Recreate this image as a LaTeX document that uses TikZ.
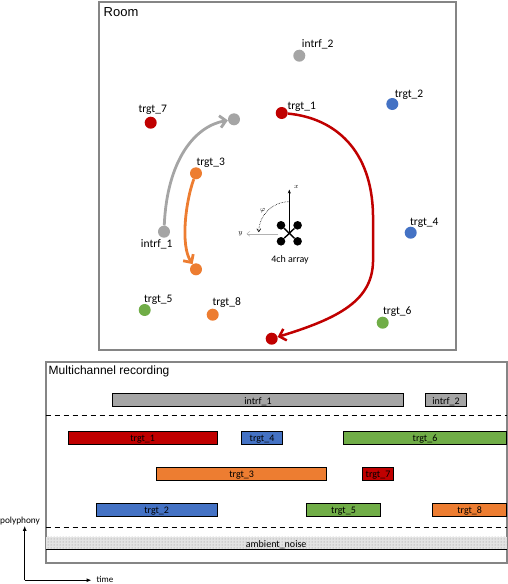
\documentclass[tikz,border=0pt]{standalone}
\usepackage{fontspec}
\setmainfont{Carlito}
\newfontfamily\headfont{Liberation Sans}
\usetikzlibrary{arrows.meta,patterns,calc}
\definecolor{srcred}{HTML}{C00000}
\definecolor{srcblue}{HTML}{4472C4}
\definecolor{srcorange}{HTML}{ED7D31}
\definecolor{srcgreen}{HTML}{70AD47}
\definecolor{srcgray}{HTML}{A5A5A5}
\definecolor{framegray}{HTML}{858585}
\tikzset{
	src/.style={circle, fill=#1, minimum size=12pt, inner sep=0pt},
	srclbl/.style={font=\fontsize{11.5}{12}\selectfont, inner sep=0pt},
	barlbl/.style={font=\fontsize{10}{11}\selectfont, inner sep=0pt, yshift=-1.5pt},
	mic/.style={circle, fill=black, minimum size=8.6pt, inner sep=0pt},
	move/.style={line width=2.8pt, -{Straight Barb[length=6pt,width=12pt]}},
	panel/.style={draw=framegray, line width=2pt},
	sep/.style={line width=1.1pt, dash pattern=on 5pt off 4pt}
}
\def\segment[#1](#2:#3:#4)#5#6{\draw[#1] (#2,#4-6.5) rectangle (#3,#4+6.5) node[barlbl,midway] (#5) {#6};}

\begin{document}
\begin{tikzpicture}[x=1pt,y=-1pt]
			%%%%% START %%%%%
			\useasboundingbox (0,0) rectangle (508,584);
			
			% room
			\draw[panel] (99,1.5) rectangle (455.7,349.5);
			\node[font=\headfont\fontsize{13}{14}\selectfont, anchor=west, inner sep=0pt] (room) at (103.5,12.3) {Room};
			
			\node[src=srcgray] (i2) at (299.3,55.7) {};
			\node[src=srcblue] (t2) at (392.3,104) {};
			\node[src=srcred] (t1) at (281.7,113) {};
			\node[src=srcred] (t7) at (150.7,122.7) {};
			\node[src=srcgray] (i1e) at (234,119.3) {};
			\node[src=srcorange] (t3) at (196,173.3) {};
			\node[src=srcgray] (i1) at (164,231.7) {};
			\node[src=srcorange] (t3e) at (196,269.3) {};
			\node[src=srcblue] (t4) at (410.7,232.7) {};
			\node[src=srcgreen] (t5) at (144.7,310) {};
			\node[src=srcorange] (t8) at (212.7,314.7) {};
			\node[src=srcgreen] (t6) at (382.7,322.7) {};
			\node[src=srcred] (t1e) at (271.7,338.7) {};
			
			\node[srclbl] (li2) at (317.7,44.3) {intrf\_2};
			\node[srclbl] (lt2) at (409,94.7) {trgt\_2};
			\node[srclbl] (lt1) at (301.7,106.7) {trgt\_1};
			\node[srclbl] (lt7) at (152.7,109.7) {trgt\_7};
			\node[srclbl] (lt3) at (210.7,162.7) {trgt\_3};
			\node[srclbl] (li1) at (156.7,244) {intrf\_1};
			\node[srclbl] (lt4) at (424.3,222.3) {trgt\_4};
			\node[srclbl] (lt5) at (158.3,299.7) {trgt\_5};
			\node[srclbl] (lt8) at (226.7,303) {trgt\_8};
			\node[srclbl] (lt6) at (397.3,311.3) {trgt\_6};
			
			\draw[move, srcgray] (i1) .. controls (167,160) and (195,126) .. (i1e);
			\draw[move, srcorange] (t3) .. controls (186,200) and (180,245) .. (t3e);
			\draw[move, srcred, line width=2.5pt] (t1) .. controls (335,118) and (372,150) .. (373,215) -- (373,262) .. controls (372,300) and (340,318) .. (t1e);
			
			% 4ch array
			\coordinate (arr) at (289.3,233.3);
			\draw[line width=0.6pt, -{Stealth[length=4pt,width=3pt]}] (arr) -- (289.3,189.5);
			\draw[line width=1.4pt] (arr) -- (289.3,201);
			\draw[gray!60, line width=0.5pt, -{Straight Barb[length=3pt,width=5pt]}] ($(arr)+(-11,0.5)$) -- (246.5,233.8);
			\draw[densely dotted, line width=0.6pt, -{Straight Barb[length=3pt,width=4pt]}] (289.3,201.7) arc (270:180:30.5);
			\node[mic] (m1) at (281,225.3) {};
			\node[mic] (m2) at (297.6,225.3) {};
			\node[mic] (m3) at (281,241.3) {};
			\node[mic] (m4) at (297.6,241.3) {};
			\draw[line width=1.4pt] (m1) -- (m4);
			\draw[line width=1.4pt] (m2) -- (m3);
			\node[font=\fontsize{7}{8}\selectfont, inner sep=0pt] (ax) at (296.5,186.5) {$x$};
			\node[font=\fontsize{7}{8}\selectfont, inner sep=0pt] (ay) at (240.5,233.5) {$y$};
			\node[font=\fontsize{7}{8}\selectfont, inner sep=0pt] (aphi) at (262.7,210.7) {$\varphi$};
			\node[font=\fontsize{10}{11}\selectfont, inner sep=0pt] (arrlbl) at (290,259.5) {4ch array};
			
			% recording
			\draw[panel] (45.5,362.3) rectangle (507,562.7);
			\node[font=\headfont\fontsize{12}{13}\selectfont, anchor=west, inner sep=0pt] (rec) at (48.5,371.7) {Multichannel recording};
			\draw[sep] (45.5,415.7) -- (507,415.7);
			\draw[sep] (45.5,527.3) -- (507,527.3);
			
			\segment[fill=srcgray, line width=0.8pt](112.3:403.7:400.2){bi1}{intrf\_1}
			\segment[fill=srcgray, line width=0.8pt](425.3:466.7:400.2){bi2}{intrf\_2}
			\segment[fill=srcred, line width=0.8pt](68.3:217:437.8){bt1}{trgt\_1}
			\segment[fill=srcblue, line width=0.8pt](241.3:282.7:437.8){bt4}{trgt\_4}
			\segment[fill=srcgreen, line width=0.8pt](343.3:506.7:437.8){bt6}{trgt\_6}
			\segment[fill=srcorange, line width=0.8pt](156.7:326.7:473.7){bt3}{trgt\_3}
			\segment[fill=srcred, line width=0.8pt](362.3:393.7:473.7){bt7}{trgt\_7}
			\segment[fill=srcblue, line width=0.8pt](96.3:217:509.8){bt2}{trgt\_2}
			\segment[fill=srcgreen, line width=0.8pt](306.3:380.7:509.8){bt5}{trgt\_5}
			\segment[fill=srcorange, line width=0.8pt](432.7:506.7:509.8){bt8}{trgt\_8}
			
			\fill[gray!22] (45.5,536.7) rectangle (507,549.3);
			\fill[pattern=dots, pattern color=gray!90] (45.5,536.7) rectangle (507,549.3);
			\draw[line width=1pt] (45.5,549.3) -- (507,549.3);
			\node[barlbl] (amb) at (276.2,543) {ambient\_noise};
			
			% axes
			\coordinate (orig) at (24.7,580.2);
			\node[font=\fontsize{9.3}{10}\selectfont, inner sep=1pt] (poly) at (20,520.7) {polyphony};
			\node[font=\fontsize{9}{10}\selectfont, inner sep=0pt, anchor=west] (time) at (96.5,579.3) {time};
			\draw[line width=1pt, -{Latex[length=5pt,width=4pt]}] (orig) -- (orig |- poly.south);
			\draw[line width=1pt, -{Latex[length=5pt,width=4pt]}] (orig) -- ($(orig -| time.west)+(-5,0)$);
			
			%%%%% END %%%%%
\end{tikzpicture}
\end{document}
